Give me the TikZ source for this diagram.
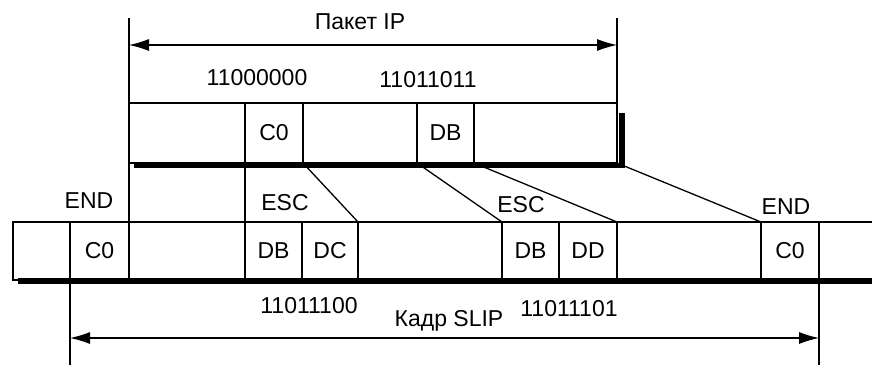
\documentclass[tikz,border=0pt]{standalone}
\usepackage{fontspec}
\setmainfont{Liberation Sans}
\usetikzlibrary{arrows.meta}
\def\lbfont{\fontsize{23}{27}\selectfont}
\begin{document}
\begin{tikzpicture}[x=1pt,y=-1pt,
  cell/.style={draw,line width=1.3pt,anchor=north west,inner sep=0pt,outer sep=0pt,font=\lbfont},
  tcell/.style={cell,minimum height=60pt,minimum width=#1},
  bcell/.style={cell,minimum height=58pt,minimum width=#1},
  thinline/.style={line width=1.3pt},
  shadowline/.style={line width=5.5pt,line join=miter},
  dim/.style={line width=1.1pt,{Latex[length=20pt,width=12pt]}-{Latex[length=20pt,width=12pt]}},
  lbl/.style={font=\lbfont,inner sep=0pt}]
\useasboundingbox (0,0) rectangle (872,367);

% top packet
\node[tcell=116pt] (t1) at (129,103) {};
\node[tcell=58pt]  (t2) at (245,103) {C0};
\node[tcell=114pt] (t3) at (303,103) {};
\node[tcell=57pt]  (t4) at (417,103) {DB};
\node[tcell=143pt] (t5) at (474,103) {};
\draw[shadowline] ([shift={(5,2.5)}]t1.south west) -- ([shift={(5,2.5)}]t5.south east) -- ([shift={(5,10)}]t5.north east);

% bottom frame
\node[bcell=57pt]  (b0) at (13,222) {};
\node[bcell=59pt]  (b1) at (70,222) {C0};
\node[bcell=116pt] (b2) at (129,222) {};
\node[bcell=57pt]  (b3) at (245,222) {DB};
\node[bcell=56pt]  (b4) at (302,222) {DC};
\node[bcell=144pt] (b5) at (358,222) {};
\node[bcell=57pt]  (b6) at (502,222) {DB};
\node[bcell=58pt]  (b7) at (559,222) {DD};
\node[bcell=144pt] (b8) at (617,222) {};
\node[bcell=58pt]  (b9) at (761,222) {C0};
\node[bcell=90pt]  (b10) at (819,222) {};
\draw[shadowline] ([shift={(5,1)}]b0.south west) -- ([shift={(0,1)}]b10.south east);

% vertical guide lines
\coordinate (vt1) at (129,18);
\coordinate (vt2) at (617,18);
\coordinate (vb1) at (70,365);
\coordinate (vb2) at (819,365);
\draw[thinline] (vt1) -- (b2.north west);
\draw[thinline] (vt2) -- (t5.north east);
\draw[thinline] (t2.south west) -- (b3.north west);
\draw[thinline] (b1.south west) -- (vb1);
\draw[thinline] (b9.south east) -- (vb2);

% diagonals
\draw[thinline] (t3.south west) -- (b5.north west);
\draw[thinline] (t4.south west) -- (b6.north west);
\draw[thinline] (t5.south west) -- (b8.north west);
\draw[thinline] (t5.south east) -- (b9.north west);

% dimension arrows
\coordinate (aL) at (129,45);
\coordinate (aR) at (617,45);
\coordinate (cL) at (70,338);
\coordinate (cR) at (819,338);
\draw[dim] (aL) -- (aR);
\draw[dim] (cL) -- (cR);

% labels
\node[lbl] (lpak) at (360,22) {Пакет IP};
\node[lbl] (lc0) at (257,78) {11000000};
\node[lbl] (ldb) at (428,80) {11011011};
\node[lbl] (lend1) at (89,201) {END};
\node[lbl] (lesc1) at (285,203) {ESC};
\node[lbl] (lesc2) at (521,205) {ESC};
\node[lbl] (lend2) at (786,207) {END};
\node[lbl] (ldc) at (309,306) {11011100};
\node[lbl] (ldd) at (569,309) {11011101};
\node[lbl] (lslip) at (449,321) {Кадр SLIP};
\end{tikzpicture}
\end{document}
